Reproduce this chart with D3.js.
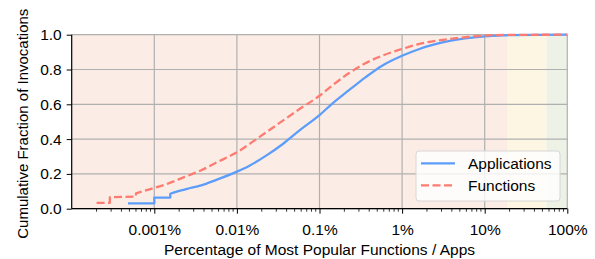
<!DOCTYPE html>
<html><head><meta charset="utf-8">
<script src="https://cdn.jsdelivr.net/npm/d3@7"></script>
<style>body{margin:0;background:#fff}text{font-family:"Liberation Sans",Arial,sans-serif}</style>
</head><body><svg id="c" width="595" height="259"></svg>
<script>
// Applications: step portion then smooth curve (x in %, y cumulative fraction)
const appsStepX = [4.8e-4, 1e-3, 1e-3, 1.56e-3, 1.56e-3];
const appsStepY = [0.031, 0.031, 0.064, 0.064, 0.086];
const appsX = [1.56e-3, 2.06e-3, 2.73e-3, 3.6e-3, 5.73e-3, 1e-2, 1.42e-2, 2.26e-2, 3.6e-2, 5.73e-2, 0.1, 0.142, 0.226, 0.36, 0.573, 1, 1.62, 3.77, 10, 20, 100];
const appsY = [0.086, 0.104, 0.119, 0.133, 0.167, 0.213, 0.247, 0.305, 0.372, 0.450, 0.538, 0.603, 0.680, 0.755, 0.822, 0.879, 0.918, 0.964, 0.990, 0.998, 1.0];
// Functions
const funcStepX = [2e-4, 2.9e-4, 2.9e-4, 6e-4, 6e-4];
const funcStepY = [0.034, 0.034, 0.066, 0.070, 0.088];
const funcX = [6e-4, 8.95e-4, 1.42e-3, 2.26e-3, 3.6e-3, 5.73e-3, 1e-2, 1.42e-2, 2.26e-2, 3.6e-2, 5.73e-2, 0.1, 0.142, 0.226, 0.36, 0.573, 1, 1.62, 3.77, 10, 20, 100];
const funcY = [0.088, 0.113, 0.142, 0.180, 0.218, 0.267, 0.324, 0.372, 0.439, 0.506, 0.573, 0.649, 0.707, 0.778, 0.836, 0.879, 0.918, 0.947, 0.975, 0.995, 0.999, 1.0];
const xTicks = [1e-3, 1e-2, 1e-1, 1, 10, 100];
const xTickLabels = ["0.001%", "0.01%", "0.1%", "1%", "10%", "100%"];
const yTicks = [0, 0.2, 0.4, 0.6, 0.8, 1.0];
const bandEdges = [1e-4, 19, 56, 100];
const bandColors = ["#fbede5", "#fdf6e3", "#edf1e6"];
const seriesNames = ["Applications", "Functions"];

const FONT = 15.5;
const svg = d3.select("#c");
const L = 71.7, R = 567.3, T = 34.7, B = 208.7;
const x = d3.scaleLog().domain([1e-4, 100]).range([L, R]);
const y = d3.scaleLinear().domain([0, 1]).range([B, T]);

svg.selectAll("rect.band").data(bandColors).enter().append("rect")
  .attr("x", (d, i) => x(bandEdges[i])).attr("width", (d, i) => x(bandEdges[i + 1]) - x(bandEdges[i]))
  .attr("y", T).attr("height", B - T).attr("fill", d => d);

// grid
svg.append("g").selectAll("line").data(xTicks).enter().append("line")
  .attr("x1", d => x(d)).attr("x2", d => x(d)).attr("y1", T).attr("y2", B)
  .attr("stroke", "#b0b0b0").attr("stroke-width", 1.2);
svg.append("g").selectAll("line").data(yTicks).enter().append("line")
  .attr("x1", L).attr("x2", R).attr("y1", d => y(d)).attr("y2", d => y(d))
  .attr("stroke", "#b0b0b0").attr("stroke-width", 1.2);

const lineS = d3.line().x(d => x(d[0])).y(d => y(d[1]));
const lineC = d3.line().x(d => x(d[0])).y(d => y(d[1])).curve(d3.curveMonotoneX);
const zip = (a, b) => a.map((v, i) => [v, b[i]]);
const colors = ["#5c9dfb", "#fe7b72"], dashes = [null, "8,3.5"];
const series = [
  [zip(appsStepX, appsStepY), zip(appsX, appsY)],
  [zip(funcStepX, funcStepY), zip(funcX, funcY)]
];
series.forEach((s, i) => {
  const d = lineS(s[0]) + lineC(s[1]).replace(/^M/, "L");
  svg.append("path").attr("d", d).attr("fill", "none").attr("stroke", colors[i])
    .attr("stroke-width", 2.3).attr("stroke-dasharray", dashes[i]).attr("stroke-linejoin", "round");
});

// axes
const xAxis = d3.axisBottom(x).tickValues(xTicks).tickFormat((d, i) => xTickLabels[i]).tickSize(5).tickPadding(10.5);
const gx = svg.append("g").attr("transform", `translate(0,${B})`).call(xAxis);
const minors = [];
for (let e = -4; e < 2; e++) for (let k = 2; k <= 9; k++) minors.push(k * Math.pow(10, e));
gx.selectAll("line.minor").data(minors).enter().append("line").attr("class", "minor")
  .attr("x1", d => x(d)).attr("x2", d => x(d)).attr("y1", 0).attr("y2", 3).attr("stroke", "#000").attr("stroke-width", 0.8);
const yAxis = d3.axisLeft(y).tickValues(yTicks).tickFormat(d3.format(".1f")).tickSize(5).tickPadding(5);
const gy = svg.append("g").attr("transform", `translate(${L},0)`).call(yAxis);
[gx, gy].forEach(g => {
  g.attr("font-size", FONT).attr("font-family", '"Liberation Sans",Arial,sans-serif');
  g.select(".domain").attr("stroke", "#000").attr("stroke-width", 1.2);
  g.selectAll(".tick line").attr("stroke", "#000").attr("stroke-width", 1);
  g.selectAll("text").attr("fill", "#000");
});
gx.select(".domain").attr("d", `M${L},0H${R}`);
gy.select(".domain").attr("d", `M0,${B}V${T}`);

svg.append("text").attr("x", (L + R) / 2).attr("y", 255).attr("text-anchor", "middle")
  .attr("font-size", FONT).text("Percentage of Most Popular Functions / Apps");
svg.append("text").attr("transform", `translate(28,${(T + B) / 2 + 2}) rotate(-90)`).attr("text-anchor", "middle")
  .attr("font-size", 15).text("Cumulative Fraction of Invocations");

// legend
const lg = svg.append("g");
lg.append("rect").attr("x", 416).attr("y", 151).attr("width", 144).attr("height", 50).attr("rx", 3)
  .attr("fill", "#fff").attr("fill-opacity", 0.8).attr("stroke", "#d6d6d6").attr("stroke-width", 1);
seriesNames.forEach((n, i) => {
  const yy = 163.3 + i * 22;
  lg.append("line").attr("x1", 421).attr("x2", 455).attr("y1", yy).attr("y2", yy)
    .attr("stroke", colors[i]).attr("stroke-width", 2.3).attr("stroke-dasharray", dashes[i]);
  lg.append("text").attr("x", 468).attr("y", yy + 5.5).attr("font-size", FONT).text(n);
});
</script></body></html>
